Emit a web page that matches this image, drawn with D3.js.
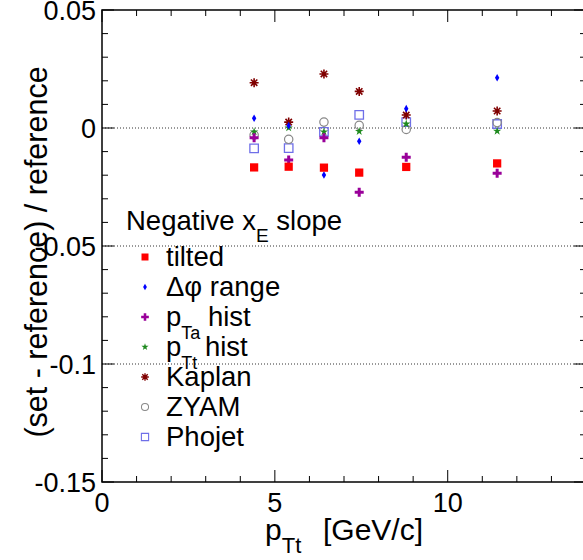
<!DOCTYPE html>
<html>
<head>
<meta charset="utf-8">
<script src="https://cdn.jsdelivr.net/npm/d3@7"></script>
<style>
  body { margin: 0; background: #fff; }
  text { font-family: "Liberation Sans", Arial, sans-serif; fill: #000; }
</style>
</head>
<body>
<div id="plot"></div>
<script>
// data
let ptt    = [4.4, 5.4, 6.42, 7.44, 8.8, 11.43];
let tilted = [-0.0167, -0.0164, -0.0168, -0.0189, -0.0165, -0.0150];
let dphi   = [0.0041, 0.0010, -0.0199, -0.0056, 0.0082, 0.0213];
let pTaHist = [-0.0041, -0.0136, -0.0041, -0.0272, -0.0124, -0.0192];
let pTtHist = [-0.0016, 0.0001, -0.0016, -0.0014, 0.0017, -0.0013];
let kaplan = [0.0192, 0.0025, 0.0229, 0.0155, 0.0055, 0.0072];
let zyam   = [-0.0030, -0.0048, 0.0025, 0.0011, -0.0006, 0.0023];
let phojet = [-0.0086, -0.0085, -0.0016, 0.0056, 0.0025, 0.0017];

let xTicks = [0, 5, 10];
let yTicks = [0.05, 0, -0.05, -0.1, -0.15];
let yTickLabels = ["0.05", "0", "-0.05", "-0.1", "-0.15"];
let gridVals = [0, -0.05, -0.1];

// set the dimensions and margins of the graph
let W = 583, H = 560;
let margin = {top: 10, left: 102, right: -3, bottom: 78};
let width = W - margin.left - margin.right;
let height = H - margin.top - margin.bottom;

let svg = d3.select("#plot")
	.append("svg")
		.attr("width", W)
		.attr("height", H);
let g = svg.append("g")
	.attr("transform", "translate(" + margin.left + "," + margin.top + ")");

let x = d3.scaleLinear().domain([0, 14]).range([0, width]);
let y = d3.scaleLinear().domain([-0.15, 0.05]).range([height, 0]);

// dotted grid lines
g.selectAll(".grid")
	.data(gridVals)
	.enter()
	.append("line")
		.attr("x1", 0).attr("x2", width)
		.attr("y1", d => y(d)).attr("y2", d => y(d))
		.attr("stroke", "#333")
		.attr("stroke-width", 1)
		.attr("stroke-dasharray", "1,2");

// frame
g.append("rect")
	.attr("width", width).attr("height", height)
	.attr("fill", "none").attr("stroke", "#000").attr("stroke-width", 1.5);

// inside ticks, all four sides
let xMinor = d3.range(0, 15, 1);
let yMinor = d3.range(-15, 6, 1).map(d => d / 100);
function isMajorX(d) { return d % 5 === 0; }
function isMajorY(d) { return Math.abs(Math.round(d * 100)) % 5 === 0; }

[height, 0].forEach((pos, i) => {
	g.selectAll(".xt" + i)
		.data(xMinor)
		.enter()
		.append("line")
			.attr("x1", d => x(d)).attr("x2", d => x(d))
			.attr("y1", pos)
			.attr("y2", d => pos + (i === 0 ? -1 : 1) * (isMajorX(d) ? 12 : 6))
			.attr("stroke", "#000").attr("stroke-width", 1);
});
[0, width].forEach((pos, i) => {
	g.selectAll(".yt" + i)
		.data(yMinor)
		.enter()
		.append("line")
			.attr("y1", d => y(d)).attr("y2", d => y(d))
			.attr("x1", pos)
			.attr("x2", d => pos + (i === 0 ? 1 : -1) * (isMajorY(d) ? 12 : 6))
			.attr("stroke", "#000").attr("stroke-width", 1);
});

// tick labels
g.selectAll(".ylab")
	.data(yTicks)
	.enter()
	.append("text")
		.attr("x", -6)
		.attr("y", d => y(d))
		.attr("dy", "0.36em")
		.attr("text-anchor", "end")
		.style("font-size", "27px")
		.text((d, i) => yTickLabels[i]);

g.selectAll(".xlab")
	.data(xTicks)
	.enter()
	.append("text")
		.attr("x", d => x(d))
		.attr("y", height + 30)
		.attr("text-anchor", "middle")
		.style("font-size", "27px")
		.text(d => d);

// axis titles
let xt = svg.append("text")
	.attr("x", 265).attr("y", 540)
	.style("font-size", "30px");
xt.append("tspan").text("p");
xt.append("tspan").attr("dy", 13).style("font-size", "22px").text("Tt");
xt.append("tspan").attr("x", 323).attr("dy", -13).text("[GeV/c]");

svg.append("text")
	.attr("transform", "translate(47,252) rotate(-90)")
	.attr("text-anchor", "middle")
	.style("font-size", "30.5px")
	.text("(set - reference) / reference");

// marker shapes
let asterisk = "M-4.5,0L4.5,0M0,-4.5L0,4.5M-3.2,-3.2L3.2,3.2M-3.2,3.2L3.2,-3.2";
let series = [
	{name: "tilted", vals: tilted, path: d3.symbol(d3.symbolSquare, 68)(), fill: "#ff0000", stroke: "none"},
	{name: "dphi", vals: dphi, path: "M0,-3.8L2.2,0L0,3.8L-2.2,0Z", fill: "#0000ff", stroke: "none"},
	{name: "pTa", vals: pTaHist, path: "M-1.5,-4.5H1.5V-1.5H4.5V1.5H1.5V4.5H-1.5V1.5H-4.5V-1.5H-1.5Z", fill: "#990099", stroke: "none"},
	{name: "pTt", vals: pTtHist, path: d3.symbol(d3.symbolStar, 22)(), fill: "#1f8a1f", stroke: "none"},
	{name: "kaplan", vals: kaplan, path: asterisk, fill: "none", stroke: "#800000", sw: 1.6},
	{name: "zyam", vals: zyam, path: d3.symbol(d3.symbolCircle, 55)(), fill: "none", stroke: "#888888", sw: 1.2},
	{name: "phojet", vals: phojet, path: d3.symbol(d3.symbolSquare, 72)(), fill: "none", stroke: "#6f6fe8", sw: 1.3}
];

// draw in reverse so tilted ends up on top
series.slice().reverse().forEach(s => {
	g.selectAll(".m-" + s.name)
		.data(s.vals)
		.enter()
		.append("path")
			.attr("d", s.path)
			.attr("transform", (d, i) => "translate(" + x(ptt[i]) + "," + y(d) + ")")
			.attr("fill", s.fill)
			.attr("stroke", s.stroke)
			.attr("stroke-width", s.sw || 0);
});

// legend
let leg = svg.append("g");
let head = leg.append("text").attr("x", 126).attr("y", 230).style("font-size", "27.5px");
head.append("tspan").text("Negative x");
head.append("tspan").attr("dy", 12).style("font-size", "19px").text("E");
head.append("tspan").attr("dy", -12).text(" slope");

let legRows = [
	[{t: "tilted"}],
	[{t: "\u0394\u03c6 range"}],
	[{t: "p"}, {t: "Ta", sub: true}, {t: " hist"}],
	[{t: "p"}, {t: "Tt", sub: true}, {t: " hist"}],
	[{t: "Kaplan"}],
	[{t: "ZYAM"}],
	[{t: "Phojet"}]
];
let legY = d3.scaleLinear().domain([0, 6]).range([257, 437]);

series.forEach((s, i) => {
	leg.append("path")
		.attr("d", s.path)
		.attr("transform", "translate(145," + legY(i) + ") scale(0.85)")
		.attr("fill", s.fill)
		.attr("stroke", s.stroke)
		.attr("stroke-width", s.sw || 0);
	let t = leg.append("text")
		.attr("x", 166).attr("y", legY(i) + 9)
		.style("font-size", "27.5px");
	let down = 0;
	legRows[i].forEach(p => {
		let dy = p.sub ? 13 - down : -down;
		down = p.sub ? 13 : 0;
		t.append("tspan").attr("dy", dy).style("font-size", p.sub ? "18px" : "27.5px").text(p.t);
	});
});
</script>
</body>
</html>
